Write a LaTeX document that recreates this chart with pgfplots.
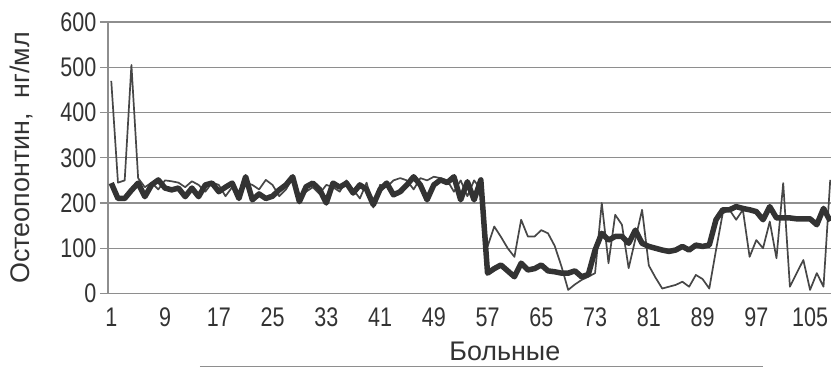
\documentclass[border=0pt]{standalone}
\usepackage{fontspec}
\setmainfont{Liberation Sans}
\usepackage{graphicx}
\usepackage{pgfplots}
\usepackage{pgfplotstable}
\pgfplotsset{compat=1.18}

\pgfplotstableread{
i thin thick
1 470 244
2 245 210
3 250 210
4 505 228
5 255 244
6 235 214
7 245 240
8 230 251
9 250 233
10 248 229
11 245 233
12 235 214
13 248 233
14 240 214
15 225 240
16 245 244
17 240 225
18 215 235
19 235 244
20 225 210
21 245 258
22 240 207
23 230 220
24 251 210
25 240 215
26 215 229
27 230 240
28 255 258
29 215 203
30 225 236
31 235 244
32 220 230
33 240 200
34 235 244
35 225 235
36 250 244
37 230 222
38 210 240
39 245 230
40 190 196
41 240 230
42 235 244
43 250 218
44 255 225
45 250 240
46 230 258
47 255 240
48 250 207
49 258 240
50 255 251
51 250 245
52 225 258
53 250 207
54 215 247
55 250 207
56 230 251
57 104 45
58 148 55
59 125 63
60 100 50
61 81 37
62 163 67
63 126 52
64 126 55
65 140 63
66 133 50
67 105 48
68 60 45
69 8 45
70 20 50
71 30 37
72 37 42
73 45 96
74 200 133
75 67 118
76 174 126
77 152 126
78 56 111
79 120 140
80 185 111
81 62 104
82 35 100
83 11 96
84 15 93
85 19 96
86 26 104
87 15 96
88 41 107
89 32 104
90 11 107
91 96 163
92 177 185
93 185 185
94 163 192
95 185 188
96 81 185
97 118 181
98 100 163
99 159 192
100 78 167
101 244 167
102 15 167
103 45 165
104 74 165
105 8 165
106 45 152
107 15 188
108 251 160
}\datatable

\definecolor{gridgray}{HTML}{8E8E8E}
\definecolor{thincol}{HTML}{474747}
\definecolor{thickcol}{HTML}{333333}

\begin{document}
\begin{tikzpicture}
\begin{axis}[
  at={(0,0)}, anchor=south west,
  scale only axis, width=723bp, height=271.5bp,
  xmin=0.5, xmax=108.1, ymin=0, ymax=600,
  clip=true,
  axis lines=left,
  axis line style={-, gridgray, line width=1.5bp},
  ytick={0,100,...,600},
  xtick={1,9,...,105},
  minor xtick={0.5,1.5,...,108.5},
  tick align=outside,
  major tick length=8bp,
  minor tick length=8bp,
  xtick style={draw=none},
  minor tick style={gridgray, line width=1.2bp},
  ytick style={gridgray, line width=1.2bp},
  ymajorgrids,
  grid style={gridgray, line width=1.4bp},
  /pgf/number format/assume math mode=true,
  xticklabel={\scalebox{0.8}[1]{\pgfmathprintnumber{\tick}}},
  yticklabel={\scalebox{0.8}[1]{\pgfmathprintnumber{\tick}}},
  tick label style={font=\fontsize{27}{32}\selectfont, text=black!80},
  xticklabel style={yshift=-3bp},
  ylabel={Остеопонтин,\ \ нг/мл},
  xlabel={Больные},
  label style={font=\fontsize{27}{32}\selectfont, text=black!80},
  ylabel style={at={(axis description cs:-0.119,0.5)}, anchor=center},
  xlabel style={at={(axis description cs:0.549,-0.212)}, anchor=center, inner sep=1bp},
]
\addplot[thincol, line width=1.7bp, line join=round] table[x=i, y=thin] {\datatable};
\addplot[thickcol, line width=5.5bp, line join=round] table[x=i, y=thick] {\datatable};
\end{axis}
\draw[gridgray, line width=1bp] (92bp,-72.5bp) -- (655bp,-72.5bp);
\pgfresetboundingbox
\path[use as bounding box] (-107.9bp,-73.5bp) rectangle (723.1bp,293.5bp);
\end{tikzpicture}
\end{document}
